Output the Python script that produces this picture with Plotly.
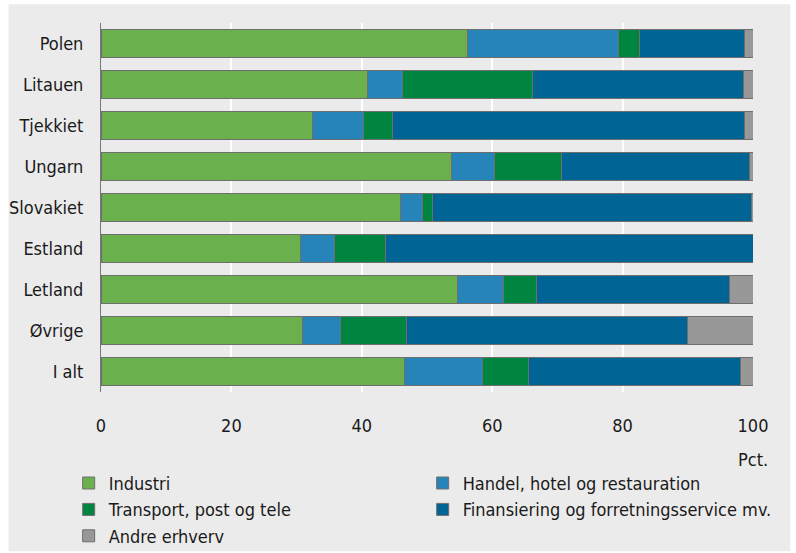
import plotly.graph_objects as go

countries = ["Polen", "Litauen", "Tjekkiet", "Ungarn", "Slovakiet", "Estland", "Letland", "Øvrige", "I alt"]
industri = [56.2, 40.9, 32.4, 53.8, 45.9, 30.6, 54.7, 30.9, 46.5]
handel = [23.2, 5.4, 7.8, 6.6, 3.4, 5.2, 7.1, 5.9, 12.0]
transport = [3.2, 19.9, 4.5, 10.2, 1.5, 7.9, 5.0, 10.0, 7.1]
finans = [16.1, 32.4, 54.0, 28.9, 49.0, 56.3, 29.6, 43.2, 32.5]
andre = [1.3, 1.4, 1.3, 0.5, 0.2, 0.0, 3.6, 10.0, 1.9]
x_ticks = [0, 20, 40, 60, 80, 100]

series = [
    ("Industri", industri, "#6ab04c"),
    ("Handel, hotel og restauration", handel, "#2684b8"),
    ("Transport, post og tele", transport, "#008540"),
    ("Finansiering og forretningsservice mv.", finans, "#006495"),
    ("Andre erhverv", andre, "#989898"),
]

FONT = "DejaVu Sans Condensed, Liberation Sans Narrow, Arial Narrow, sans-serif"
FS = 18

W, H = 796, 553
L, R, T, B = 101.3, 43.3, 22.7, 161.3
pw = W - L - R
ph = H - T - B

fig = go.Figure()
for name, vals, col in series:
    fig.add_trace(go.Bar(
        y=countries, x=vals, name=name, orientation="h",
        marker=dict(color=col, line=dict(color="#6e6e6e", width=1)),
    ))

fig.update_layout(
    width=W, height=H,
    barmode="stack", bargap=0.33,
    margin=dict(l=L, r=R, t=T, b=B, autoexpand=False),
    paper_bgcolor="white",
    plot_bgcolor="#dddddd",
    font=dict(family=FONT, size=FS, color="#1a1a1a"),
    xaxis=dict(range=[0, 100], tickvals=x_ticks, showgrid=True, gridcolor="white",
               gridwidth=2, zeroline=False, ticks="", ticklabelstandoff=21,
               fixedrange=True, showline=False),
    yaxis=dict(autorange="reversed", showline=True, linecolor="#777777", linewidth=1,
               ticks="", ticklabelstandoff=13, showgrid=False, fixedrange=True),
    legend=dict(orientation="h", x=(69 - L) / pw, xanchor="left",
                y=-(464.5 - (T + ph)) / ph, yanchor="top",
                entrywidth=309, entrywidthmode="pixels",
                traceorder="normal", bgcolor="rgba(0,0,0,0)",
                font=dict(size=FS), itemclick=False),
    shapes=[dict(type="rect", xref="paper", yref="paper", layer="below",
                 x0=(9 - L) / pw, x1=(790 - L) / pw,
                 y0=-(551 - (T + ph)) / ph, y1=1 + (T - 4) / ph,
                 fillcolor="#ebebeb", line=dict(width=0))],
    annotations=[dict(text="Pct.", xref="paper", yref="paper",
                      x=(770 - L) / pw, xanchor="right",
                      y=-(459 - (T + ph)) / ph, yanchor="middle",
                      showarrow=False, font=dict(size=FS))],
)

fig.write_html("out.html", config={"displayModeBar": False},
               post_script="document.body.style.margin='0';")
